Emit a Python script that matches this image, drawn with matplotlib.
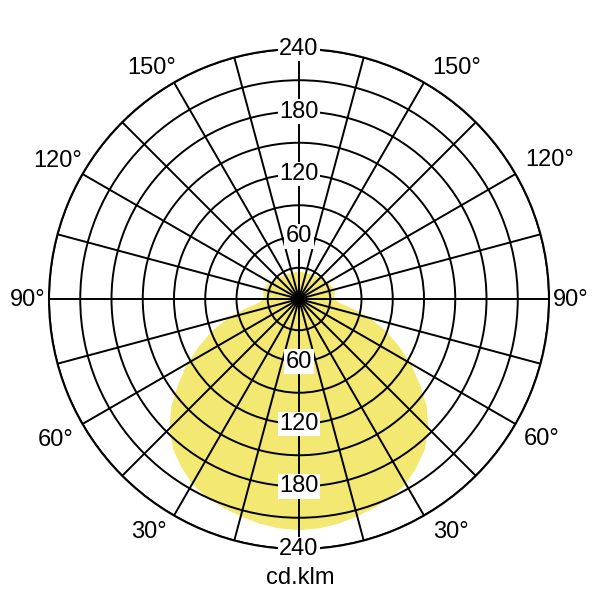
import numpy as np
import matplotlib
matplotlib.use("Agg")
import matplotlib.pyplot as plt

plt.rcParams['font.family'] = ['Liberation Sans', 'DejaVu Sans']

# Luminous intensity (cd/klm) vs gamma angle (deg from nadir), symmetric distribution
gamma = [0, 5, 10, 15, 20, 25, 30, 35, 40, 45, 50, 55, 60, 65, 70, 75, 80, 85,
         90, 95, 100, 105, 110, 115, 120, 125, 130, 135, 140, 145, 150, 160, 170, 180]
intensity = [222, 221, 219, 216, 213, 210, 205, 197, 188, 176, 160, 141, 124, 105, 88, 70, 52, 38,
             34, 34, 35, 35, 34, 33, 32, 30, 29, 28, 28, 27, 27, 26, 26, 26]

ring_values = [30, 60, 90, 120, 150, 180, 210, 240]
ring_labels = [60, 120, 180, 240]
angle_labels = [150, 120, 90, 60, 30]
unit_label = "cd.klm"

fill_color = '#f3e872'

fig = plt.figure(figsize=(6, 6), dpi=100)
ax = fig.add_axes([49/600, 51/600, 500/600, 500/600], projection='polar')
ax.set_theta_zero_location('S')
ax.set_theta_direction(1)

g = np.radians(np.array(gamma, dtype=float))
I = np.array(intensity, dtype=float)
theta = np.concatenate([-g[::-1], g[1:]])
r = np.concatenate([I[::-1], I[1:]])
ax.fill(theta, r, color=fill_color, linewidth=0, zorder=0.5)

ax.set_rlim(0, 240)
ax.set_rgrids(ring_values, labels=[''] * len(ring_values))
ax.set_thetagrids(np.arange(0, 360, 15), labels=[''] * 24)
ax.grid(True, color='black', linewidth=1.4)
ax.spines['polar'].set_linewidth(1.5)
ax.set_facecolor('white')
ax.tick_params(length=0, pad=0)

fs = 17
bbox = dict(facecolor='white', edgecolor='none', pad=1.0)
for v in ring_labels:
    ax.text(np.pi, v, str(v), ha='center', va='center', fontsize=fs, bbox=bbox, zorder=5)
    ax.text(0, v, str(v), ha='center', va='center', fontsize=fs, bbox=bbox, zorder=5)

# label centres in pixels (left side, right side)
left_pos = [(152, 68), (58, 161), (28, 300), (56, 440), (149, 532)]
right_pos = [(457, 68), (550, 160), (571, 300), (542, 439), (451, 532)]
for a, lp, rp in zip(angle_labels, left_pos, right_pos):
    for (px, py) in (lp, rp):
        fig.text(px / 600, 1 - py / 600, f"{a}°", ha='center', va='center', fontsize=fs)

fig.text(0.5, 1 - 578/600, unit_label, ha='center', va='center', fontsize=fs)

fig.savefig('out.png', dpi=100, facecolor='white')
